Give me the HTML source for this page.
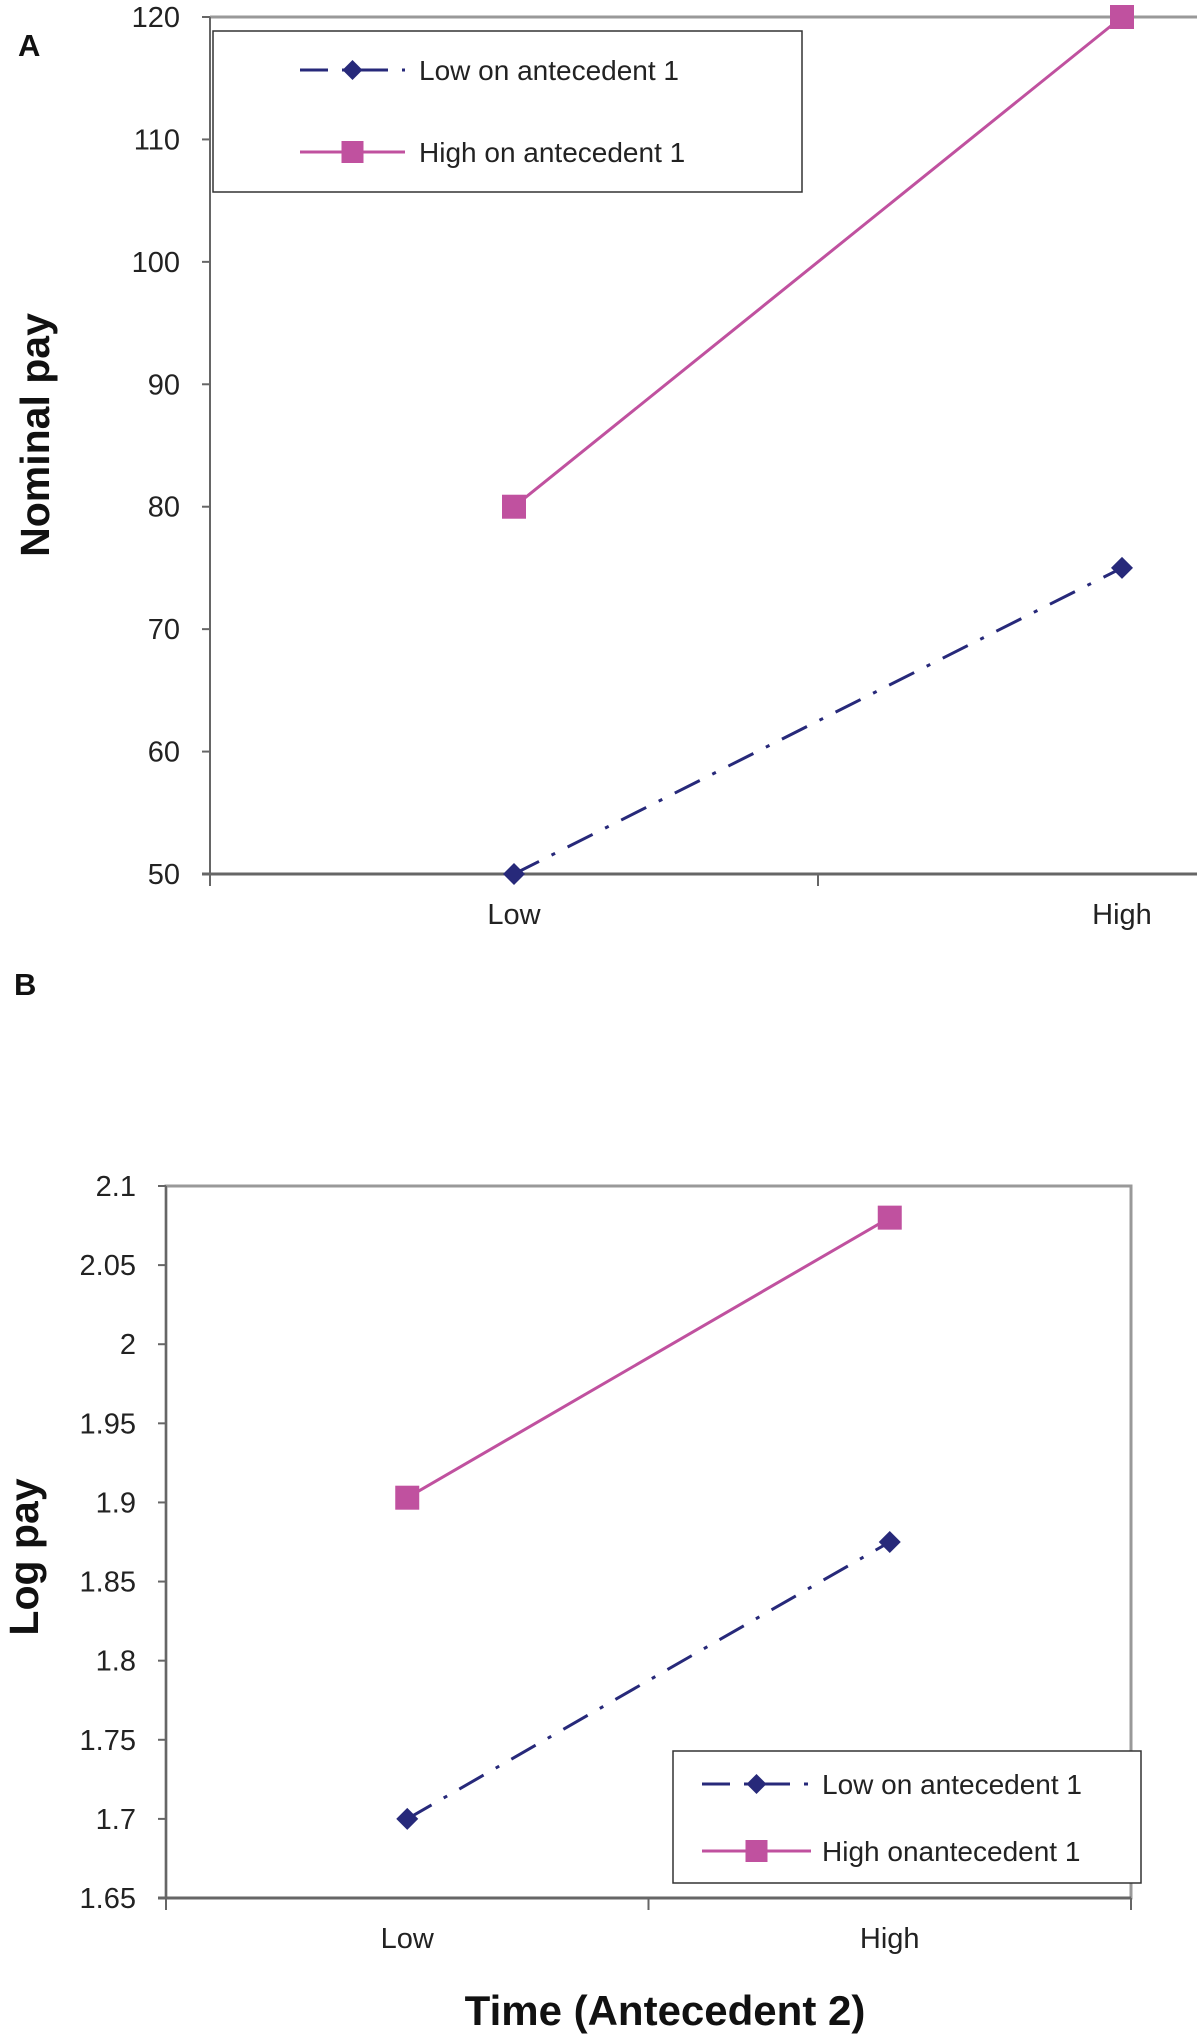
<!DOCTYPE html>
<html><head><meta charset="utf-8"><style>
body{margin:0;background:#fff}
svg{display:block;font-family:"Liberation Sans",sans-serif}
</style></head><body>
<svg id="s" width="1197" height="2038" xmlns="http://www.w3.org/2000/svg"></svg>
<script>
const categories=["Low","High"];
const aLow=[50,75];
const aHigh=[80,120];
const aTicks=[50,60,70,80,90,100,110,120];
const bLow=[1.7,1.875];
const bHigh=[1.903,2.08];
const bTicks=["1.65","1.7","1.75","1.8","1.85","1.9","1.95","2","2.05","2.1"];
const NS="http://www.w3.org/2000/svg";
const s=document.getElementById('s');
function el(t,a,p,txt){const e=document.createElementNS(NS,t);for(const k in a)e.setAttribute(k,a[k]);if(txt!==undefined)e.textContent=txt;(p||s).appendChild(e);return e;}
const NAVY="#27297a",MAG="#c0519f";
function panel(cfg){
  const g=el('g',{});
  
  
  const xe=Math.min(cfg.xr,1197);
  const y=v=>cfg.y0+(v-cfg.vmin)/(cfg.vmax-cfg.vmin)*(cfg.y1-cfg.y0);
  const xc=i=>cfg.xl+(i+0.5)*(cfg.xr-cfg.xl)/categories.length;
  if(cfg.box){const r=el('rect',{x:cfg.xl,y:cfg.y1,width:cfg.xr-cfg.xl,height:cfg.y0-cfg.y1,fill:'none',stroke:'#999','stroke-width':3},g);}
  else{const t=el('line',{x1:cfg.xl,x2:xe,y1:cfg.y1,y2:cfg.y1,stroke:'#999','stroke-width':3},g);}
  const ya=el('line',{x1:cfg.xl,x2:cfg.xl,y1:cfg.y1,y2:cfg.y0+10,stroke:'#666','stroke-width':2},g);
  
  const xa=el('line',{x1:cfg.xl-8,x2:xe,y1:cfg.y0,y2:cfg.y0,stroke:'#666','stroke-width':3},g);
  
  cfg.ticks.forEach(t=>{const v=parseFloat(t);
    el('line',{x1:cfg.xl-8,x2:cfg.xl,y1:y(v),y2:y(v),stroke:'#666','stroke-width':2},g);
    const tx=el('text',{x:cfg.xl-30,y:y(v)+10,'text-anchor':'end','font-size':29,fill:'#222'},g,t);
    });
  for(let i=0;i<=categories.length;i++){const xx=cfg.xl+i*(cfg.xr-cfg.xl)/categories.length;if(xx<=1197)el('line',{x1:xx,x2:xx,y1:cfg.y0,y2:cfg.y0+12,stroke:'#666','stroke-width':2},g);}
  categories.forEach((c,i)=>{const tx=el('text',{x:xc(i),y:cfg.y0+50,'text-anchor':'middle','font-size':29,fill:'#222'},g,c);
    });
  const pl=(arr,col,dash,nm)=>{const p=el('polyline',{points:arr.map((v,i)=>xc(i)+','+y(v)).join(' '),fill:'none',stroke:col,'stroke-width':3,'stroke-dasharray':dash},g);
    };
  pl(cfg.low,NAVY,'28,14,4,14','low-series-line');
  pl(cfg.high,MAG,'none','high-series-line');
  cfg.low.forEach((v,i)=>{const m=el('path',{d:`M${xc(i)} ${y(v)-11}l11 11l-11 11l-11 -11z`,fill:NAVY},g);});
  cfg.high.forEach((v,i)=>{const m=el('rect',{x:xc(i)-12,y:y(v)-12,width:24,height:24,fill:MAG},g);});
  const L=cfg.leg;const lg=el('g',{},g);
  
  el('rect',{x:L.x,y:L.y,width:L.w,height:L.h,fill:'#fff',stroke:'#333','stroke-width':1.5},lg);
  const mx=(L.lx1+L.lx2)/2;
  el('line',{x1:L.lx1,x2:L.lx2,y1:L.e1,y2:L.e1,stroke:NAVY,'stroke-width':3,'stroke-dasharray':'28,14,4,14'},lg);
  el('path',{d:`M${mx} ${L.e1-10}l10 10l-10 10l-10 -10z`,fill:NAVY},lg);
  const t1=el('text',{x:L.tx,y:L.e1+10,'font-size':28,fill:'#222'},lg,L.t1);
  
  el('line',{x1:L.lx1,x2:L.lx2,y1:L.e2,y2:L.e2,stroke:MAG,'stroke-width':3},lg);
  el('rect',{x:mx-11,y:L.e2-11,width:22,height:22,fill:MAG},lg);
  const t2=el('text',{x:L.tx,y:L.e2+10,'font-size':28,fill:'#222'},lg,L.t2);
  
}
panel({name:'panel-a',xl:210,xr:1426,y0:874,y1:17,vmin:50,vmax:120,ticks:aTicks.map(String),low:aLow,high:aHigh,box:false,
  leg:{x:213,y:31,w:589,h:161,e1:70,e2:152,lx1:300,lx2:405,tx:419,t1:'Low on antecedent 1',t2:'High on antecedent 1'}});
panel({name:'panel-b',xl:166,xr:1131,y0:1898,y1:1186,vmin:1.65,vmax:2.1,ticks:bTicks,low:bLow,high:bHigh,box:true,
  leg:{x:673,y:1751,w:468,h:132,e1:1784,e2:1851,lx1:702,lx2:811,tx:822,t1:'Low on antecedent 1',t2:'High onantecedent 1'}});
const la=el('text',{x:18,y:56,'font-size':31,'font-weight':'bold',fill:'#111'},s,'A');
const lb=el('text',{x:14,y:995,'font-size':31,'font-weight':'bold',fill:'#111'},s,'B');
const ya=el('text',{x:0,y:0,'font-size':41,'font-weight':'bold',fill:'#111','text-anchor':'middle',transform:'translate(49,435) rotate(-90)'},s,'Nominal pay');
const yb=el('text',{x:0,y:0,'font-size':41,'font-weight':'bold',fill:'#111','text-anchor':'middle',transform:'translate(38,1557) rotate(-90)'},s,'Log pay');
const xt=el('text',{x:665,y:2025,'font-size':42,'font-weight':'bold',fill:'#111','text-anchor':'middle'},s,'Time (Antecedent 2)');
</script>
</body></html>
